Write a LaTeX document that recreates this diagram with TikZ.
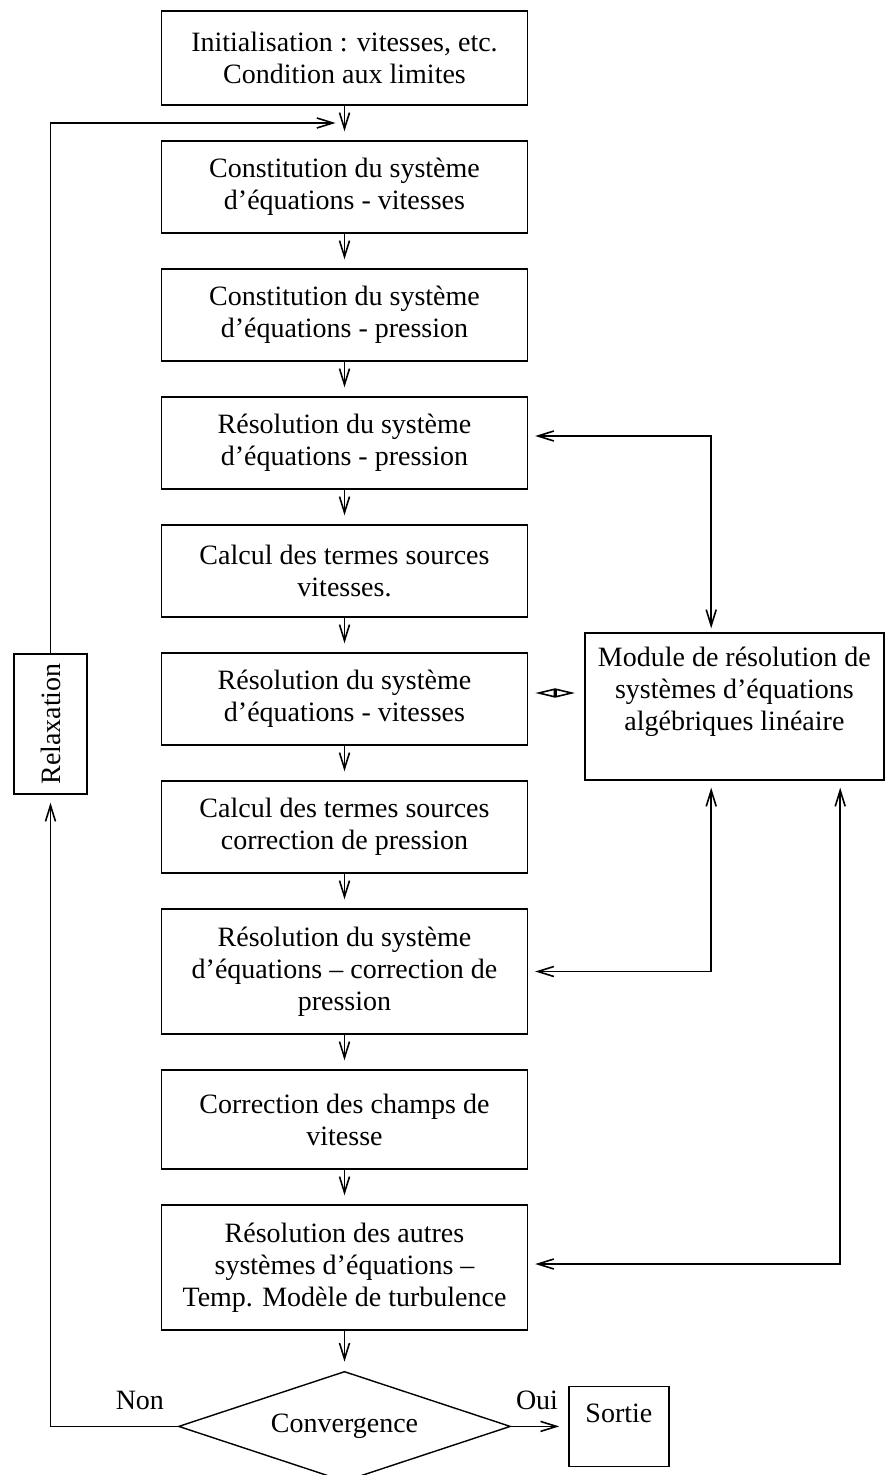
\documentclass[tikz,border=0pt]{standalone}
\usepackage{fontspec}
\setmainfont{Liberation Serif}
\usepackage{graphicx}
\usetikzlibrary{positioning,arrows.meta,shapes.geometric,calc}

\begin{document}
\begin{tikzpicture}[
  x=0.5pt, y=-0.5pt,
  node distance=17.3pt,
  font=\fontsize{14pt}{16pt}\selectfont,
  bloc/.style={draw, line width=0.7pt, align=center, minimum width=183pt, minimum height=46pt, inner sep=3pt},
  haut/.style={bloc, minimum height=62.5pt},
  arr/.style={-{Straight Barb[length=8pt,width=5pt]}, line width=0.8pt, shorten >=4.5pt},
  dbl/.style={{Straight Barb[length=8pt,width=5pt]}-{Straight Barb[length=8pt,width=5pt]}, line width=0.8pt},
  losange/.style={{Triangle[open,length=10pt,width=4.5pt]}-{Triangle[open,length=10pt,width=4.5pt]}, line width=0.8pt},
  lbl/.style={inner sep=0pt}
]
\useasboundingbox (0,0) rectangle (884,1475);

% colonne principale
\node[bloc, minimum height=47pt] (init) at (344.5,58) {Initialisation : vitesses, etc.\\Condition aux limites};
\node[bloc, below=of init] (cvit) {Constitution du système\\d’équations - vitesses};
\node[bloc, below=of cvit] (cpres) {Constitution du système\\d’équations - pression};
\node[bloc, below=of cpres] (rpres) {Résolution du système\\d’équations - pression};
\node[bloc, below=of rpres] (svit) {Calcul des termes sources\\vitesses.};
\node[bloc, below=of svit] (rvit) {Résolution du système\\d’équations - vitesses};
\node[bloc, below=of rvit] (scorr) {Calcul des termes sources\\correction de pression};
\node[haut, below=of scorr] (rcorr) {Résolution du système\\d’équations – correction de\\pression};
\node[bloc, minimum height=49.5pt, below=of rcorr] (champs) {Correction des champs de\\vitesse};
\node[haut, below=of champs] (rautres) {Résolution des autres\\systèmes d’équations –\\Temp. Modèle de turbulence};
\node[diamond, draw, line width=0.7pt, aspect=3, inner sep=0pt, minimum width=166pt, minimum height=55pt, below=20pt of rautres] (conv) {Convergence};

\node[draw, line width=0.7pt, right=28.5pt of conv, minimum width=50pt, inner sep=4pt, text height=14pt, text depth=18pt] (sortie) {Sortie};
\node[draw, line width=0.7pt, minimum width=36.5pt, minimum height=70pt, inner sep=0pt] (relax) at (50.5,724) {\rotatebox{90}{Relaxation}};

\node[draw, line width=0.7pt, align=center, minimum width=149.5pt, inner sep=0pt, text height=48.5pt, text depth=25pt, right=28pt of rvit, yshift=-3.75pt] (module) {Module de résolution de\\systèmes d’équations\\algébriques linéaire};

% liaisons
\foreach \a/\b in {init/cvit, cvit/cpres, cpres/rpres, rpres/svit, svit/rvit, rvit/scorr, scorr/rcorr, rcorr/champs, champs/rautres, rautres/conv}
  \draw[arr] (\a) -- (\b);

\draw[arr] (conv.east) -- node[lbl, pos=0, anchor=base west, xshift=2pt, yshift=8.5pt] (oui) {Oui} (sortie.west);

\coordinate (merge) at ($(init.south)!0.5!(cvit.north)$);
\draw[arr, shorten >=4pt] (conv.west) -| node[lbl, pos=0, anchor=base east, xshift=-6.5pt, yshift=8.5pt] (non) {Non} (relax.south);
\draw[arr] (relax.north) |- (merge);

\coordinate (ma) at ($(module.north west)+(127,0)$);
\coordinate (mb) at ($(module.south west)+(127,0)$);
\coordinate (mc) at ($(module.south west)+(256,0)$);
\draw[dbl, shorten <=3.5pt, shorten >=2pt] ([yshift=3.5pt]rpres.east) -| (ma);
\draw[dbl, shorten <=3.5pt, shorten >=3.5pt] (rcorr.east) -| (mb);
\draw[dbl, shorten <=3.5pt, shorten >=3.5pt] ([yshift=1.75pt]rautres.east) -| (mc);
\draw[losange, shorten <=3.5pt, shorten >=4.5pt] ([yshift=3pt]rvit.east) -- ([yshift=3pt]rvit.east -| module.west);
\end{tikzpicture}
\end{document}
